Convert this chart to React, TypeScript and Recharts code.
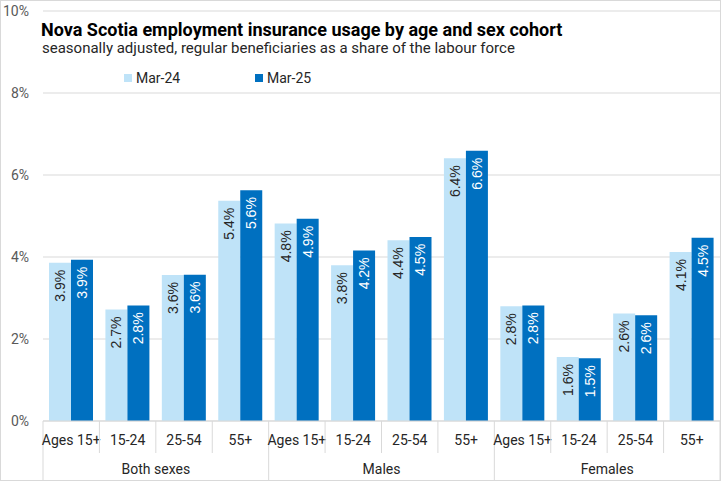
import React from "react";
import { BarChart, Bar, XAxis, YAxis, CartesianGrid, LabelList } from "recharts";

const categories = ["Ages 15+", "15-24", "25-54", "55+", "Ages 15+", "15-24", "25-54", "55+", "Ages 15+", "15-24", "25-54", "55+"];
const groups = ["Both sexes", "Males", "Females"];
const mar24 = [3.86, 2.72, 3.56, 5.37, 4.82, 3.8, 4.41, 6.41, 2.8, 1.56, 2.62, 4.12];
const mar25 = [3.93, 2.82, 3.57, 5.63, 4.93, 4.16, 4.49, 6.59, 2.82, 1.53, 2.58, 4.47];
const yTicks = [0, 2, 4, 6, 8, 10];

const data = categories.map((c, i) => ({
  cat: c,
  group: groups[Math.floor(i / 4)],
  m24: mar24[i],
  m25: mar25[i],
}));

const W = 721;
const H = 481;
const LEFT = 43;
const RIGHT = 1;
const TOP = 11;
const XH = 60;
const PLOT_W = W - LEFT - RIGHT;
const BW = PLOT_W / categories.length;
const ZERO_Y = H - XH;

const LIGHT = "#BFE3F8";
const DARK = "#0070C0";
const GRID = "#D9D9D9";
const TXT = "#595959";
const FONT = "Roboto, 'Noto Sans', sans-serif";

const CatTick = (props: any) => {
  const { x, payload, index } = props;
  const left = x - BW / 2;
  const isGroupStart = index % 4 === 0;
  return (
    <g>
      <line x1={left} x2={left} y1={ZERO_Y} y2={isGroupStart ? H : ZERO_Y + 32} stroke={GRID} strokeWidth={1} />
      {index === categories.length - 1 && (
        <line x1={x + BW / 2} x2={x + BW / 2} y1={ZERO_Y} y2={H} stroke={GRID} strokeWidth={1} />
      )}
      <text x={x} y={ZERO_Y + 24} textAnchor="middle" fill="#262626" fontSize={14} fontFamily={FONT}>
        {payload.value}
      </text>
      {isGroupStart && (
        <text x={left + 2 * BW} y={ZERO_Y + 53} textAnchor="middle" fill="#262626" fontSize={14} fontFamily={FONT}>
          {groups[Math.floor(index / 4)]}
        </text>
      )}
    </g>
  );
};

const makeLabel = (fill: string) => (props: any) => {
  const x = Number(props.x);
  const y = Number(props.y);
  const width = Number(props.width);
  const value = Number(props.value);
  const cx = x + width / 2;
  const ty = y + 7;
  return (
    <text
      x={cx}
      y={ty}
      transform={`rotate(-90 ${cx} ${ty})`}
      textAnchor="end"
      dominantBaseline="central"
      fill={fill}
      fontSize={14}
      fontFamily="'Liberation Sans', Arial, sans-serif"
    >
      {value.toFixed(1)}%
    </text>
  );
};

export default function App() {
  return (
    <div style={{ position: "absolute", left: 0, top: 0, width: W, height: H, background: "#fff", fontFamily: FONT }}>
      <BarChart
        width={W}
        height={H}
        data={data}
        margin={{ top: TOP, right: RIGHT, left: 0, bottom: 0 }}
        barCategoryGap={6}
        barGap={0}
      >
        <CartesianGrid vertical={false} stroke={GRID} strokeWidth={1} />
        <YAxis
          width={LEFT}
          domain={[0, 10]}
          ticks={yTicks}
          interval={0}
          axisLine={false}
          tickLine={false}
          tickSize={0}
          tickMargin={14}
          tickFormatter={(v: number) => `${v}%`}
          tick={{ fill: TXT, fontSize: 14, fontFamily: FONT }}
        />
        <XAxis
          dataKey="cat"
          height={XH}
          interval={0}
          axisLine={{ stroke: GRID }}
          tickLine={false}
          tickSize={0}
          tick={<CatTick />}
        />
        <Bar dataKey="m24" fill={LIGHT} isAnimationActive={false}>
          <LabelList dataKey="m24" content={makeLabel("#262626")} />
        </Bar>
        <Bar dataKey="m25" fill={DARK} isAnimationActive={false}>
          <LabelList dataKey="m25" content={makeLabel("#FFFFFF")} />
        </Bar>
      </BarChart>

      <div style={{ position: "absolute", left: 41, top: 19, fontSize: 18, fontWeight: 700, color: "#000", whiteSpace: "nowrap", lineHeight: "21px" }}>
        Nova Scotia employment insurance usage by age and sex cohort
      </div>
      <div style={{ position: "absolute", left: 42, top: 39, fontSize: 15, color: "#262626", whiteSpace: "nowrap", lineHeight: "18px" }}>
        seasonally adjusted, regular beneficiaries as a share of the labour force
      </div>
      <div style={{ position: "absolute", left: 124, top: 70, display: "flex", alignItems: "center", fontSize: 14, color: "#262626", lineHeight: "16px" }}>
        <span style={{ width: 8, height: 8, background: LIGHT, display: "inline-block", marginRight: 4 }} />
        <span>Mar-24</span>
      </div>
      <div style={{ position: "absolute", left: 255, top: 70, display: "flex", alignItems: "center", fontSize: 14, color: "#262626", lineHeight: "16px" }}>
        <span style={{ width: 8, height: 8, background: DARK, display: "inline-block", marginRight: 4 }} />
        <span>Mar-25</span>
      </div>
      <div style={{ position: "absolute", left: 0, top: 0, width: W, height: H, boxSizing: "border-box", border: `1px solid ${GRID}`, pointerEvents: "none" }} />
    </div>
  );
}
